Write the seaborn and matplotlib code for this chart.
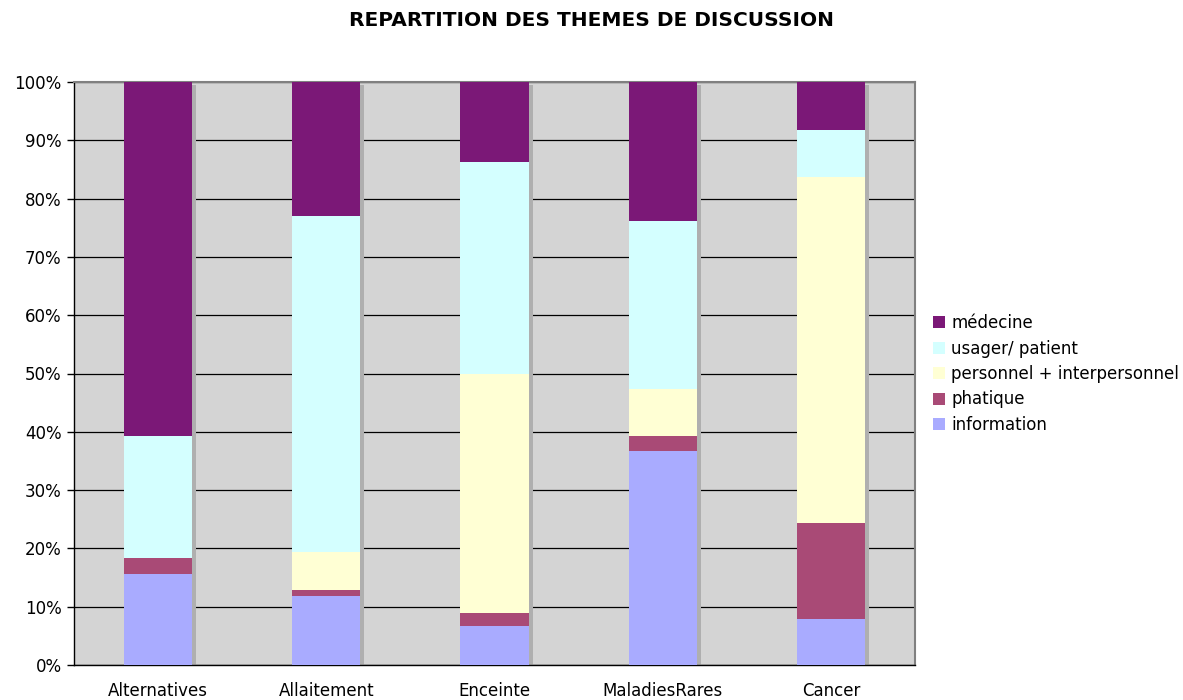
import numpy as np
import pandas as pd
import matplotlib
matplotlib.use("Agg")
import matplotlib.pyplot as plt
from matplotlib.patches import Patch
from matplotlib.transforms import ScaledTranslation
import seaborn as sns

categories = ["Alternatives", "Allaitement", "Enceinte", "MaladiesRares", "Cancer"]
information = [15.6, 11.8, 6.7, 36.7, 7.9]
phatique = [2.8, 1.1, 2.2, 2.6, 16.5]
personnel = [0.0, 6.5, 41.1, 8.0, 59.3]
usager = [20.9, 57.6, 36.3, 28.9, 8.1]
medecine = [60.7, 23.0, 13.7, 23.8, 8.2]

series_names = ["information", "phatique", "personnel + interpersonnel", "usager/ patient", "médecine"]
series_values = [information, phatique, personnel, usager, medecine]
series_colors = ["#A9ABFF", "#A94A76", "#FFFFD4", "#D4FFFF", "#7B1877"]

sns.set_theme(style="white")
plt.rcParams["font.family"] = ["DejaVu Sans"]
plt.rcParams["text.color"] = "black"

fig = plt.figure(figsize=(11.83, 7.0), dpi=100)
ax = fig.add_axes([74 / 1183, 35 / 700, (915 - 74) / 1183, (665 - 82) / 700])
ax.set_facecolor("#D4D4D4")

vals = np.array(series_values)
cum = np.cumsum(vals, axis=0)
total = cum[-1]
bar_w = 0.405

# shadow bars
sns.barplot(x=categories, y=total, color="#AFAFAF", width=bar_w, saturation=1,
            linewidth=0, ax=ax, zorder=2)
shift = ScaledTranslation(4 / 100, -3 / 100, fig.dpi_scale_trans)
for p in ax.patches:
    p.set_transform(ax.transData + shift)
    p.set_clip_on(True)

# stacked layers (top cumulative first)
for i in range(len(series_names) - 1, -1, -1):
    sns.barplot(x=categories, y=cum[i], color=series_colors[i], width=bar_w,
                saturation=1, linewidth=0, ax=ax, zorder=3)

ax.set_ylim(0, 100)
ax.set_xlim(-0.5, len(categories) - 0.5)
ax.set_yticks(np.arange(0, 101, 10))
ax.set_yticklabels([f"{v}%" for v in range(0, 101, 10)], fontsize=12, color="black")
ax.set_xticks(range(len(categories)))
ax.set_xticklabels(categories, fontsize=12, color="black")
ax.set_xticks(np.arange(-0.5, len(categories), 1), minor=True)
ax.tick_params(axis="x", which="major", length=0, pad=12, labelcolor="black")
ax.tick_params(axis="x", which="minor", length=5, width=1, color="black", direction="out")
ax.tick_params(axis="y", which="major", length=5, width=1, color="black", direction="out",
               left=True, pad=4, labelcolor="black")
ax.set_xlabel("")
ax.set_ylabel("")

ax.yaxis.grid(True, color="black", linewidth=0.9)
ax.set_axisbelow(True)
for s in ["top", "right"]:
    ax.spines[s].set_color("#808080")
    ax.spines[s].set_linewidth(1.5)
for s in ["left", "bottom"]:
    ax.spines[s].set_color("black")
    ax.spines[s].set_linewidth(1.0)

handles = [Patch(facecolor=series_colors[i], edgecolor="none", label=series_names[i])
           for i in range(len(series_names) - 1, -1, -1)]
leg = fig.legend(handles=handles, loc="center left", bbox_to_anchor=(933 / 1183, 1 - 374 / 700),
                 frameon=False, fontsize=12, handlelength=0.7, handleheight=0.7,
                 handletextpad=0.4, labelspacing=0.45, borderpad=0, borderaxespad=0)
for t in leg.get_texts():
    t.set_color("black")

fig.suptitle("REPARTITION DES THEMES DE DISCUSSION", fontsize=14.5, fontweight="bold",
             x=0.5, y=1 - 20 / 700, va="center", color="black")

fig.savefig("out.png", dpi=100)
